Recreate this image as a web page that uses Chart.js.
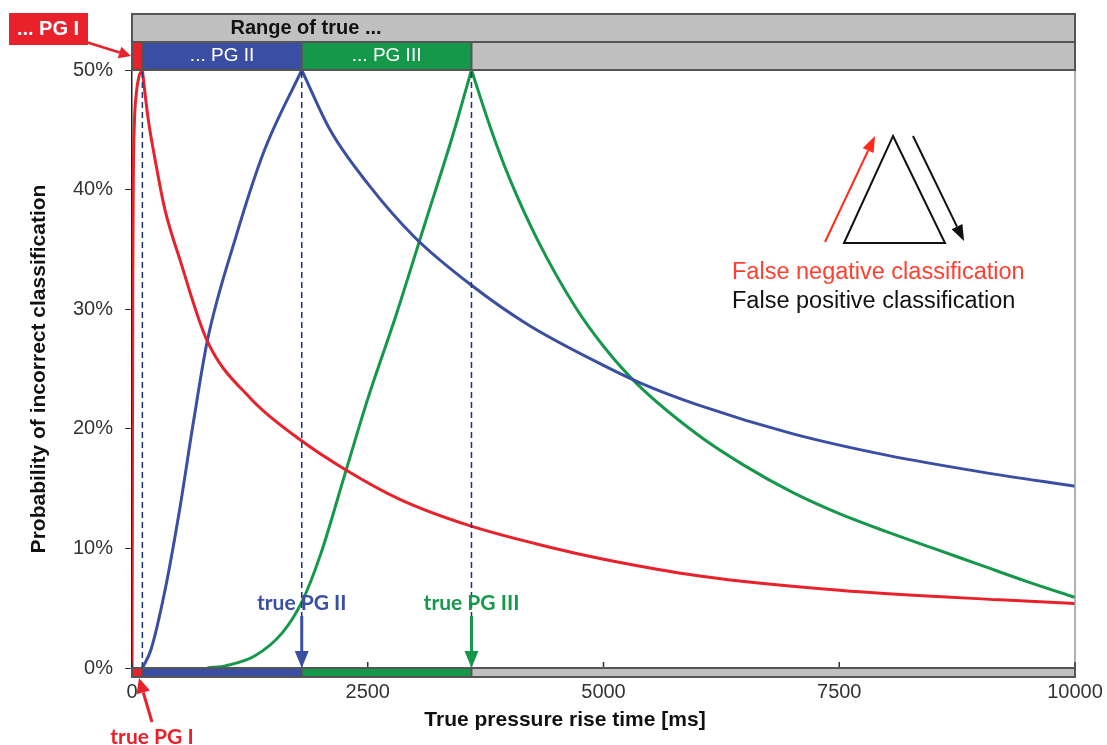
<!DOCTYPE html>
<html>
<head>
<meta charset="utf-8">
<script src="https://cdn.jsdelivr.net/npm/chart.js@4.4.1/dist/chart.umd.min.js"></script>
<style>
  html, body { margin: 0; padding: 0; background: #fff; }
  canvas { display: block; }
</style>
</head>
<body>
<canvas id="myChart" width="1107" height="745"></canvas>
<script>
// pressure groups and their ranges of rise time [ms]
const groupNames = ['... PG I', '... PG II', '... PG III'];
const groupEdges = [0, 110, 1800, 3600, 10000];
const trueLabels = ['true PG I', 'true PG II', 'true PG III'];
const trueValues = [110, 1800, 3600];

// probability of incorrect classification [%]
const pg1RiseTime = [0, 4, 8, 14, 25, 45, 75, 110];
const pg1RiseProb = [0, 14, 32, 41, 45.5, 48, 49.5, 50];
const pg1FallTime = [110, 170, 245, 350, 510, 795, 1250, 1780, 2260, 2840, 3580, 4430, 5000, 6020, 7500, 9200, 10000];
const pg1FallProb = [50, 46.0, 42.5, 38.3, 34.1, 27.4, 22.6, 19.1, 16.6, 14.1, 11.9, 10.1, 9.1, 7.7, 6.5, 5.7, 5.4];

const pg2RiseTime = [110, 200, 350, 500, 650, 800, 1100, 1400, 1800];
const pg2RiseProb = [0, 1.5, 6.5, 13, 20.5, 27.4, 36, 43.2, 50];
const pg2FallTime = [1800, 2100, 2500, 3000, 3600, 4200, 5000, 5400, 6000, 7000, 8000, 9000, 10000];
const pg2FallProb = [50, 45, 40.5, 36, 32, 28.7, 25.3, 23.8, 22, 19.6, 17.8, 16.4, 15.2];

const pg3RiseTime = [800, 1000, 1300, 1600, 1800, 2000, 2250, 2500, 2800, 3100, 3400, 3600];
const pg3RiseProb = [0, 0.2, 1, 3, 5.5, 9.5, 16, 22.5, 29.5, 37, 44.5, 50];
const pg3FallTime = [3600, 3800, 4000, 4300, 4700, 5000, 5350, 6000, 6500, 7000, 7500, 8000, 8500, 9000, 9500, 10000];
const pg3FallProb = [50, 45.2, 41.0, 35.8, 30.2, 26.9, 23.8, 19.5, 16.9, 14.7, 12.9, 11.4, 10.0, 8.6, 7.2, 5.9];

const legendTexts = ['False negative classification', 'False positive classification'];

const RED = '#e8212b';
const BLUE = '#3a4fa3';
const GREEN = '#16984a';
const GRAY = '#c0c0c0';
const groupColors = [RED, BLUE, GREEN, GRAY];
const ARIAL = '"Liberation Sans", Arial, sans-serif';

function toPoints(xs, ys) {
    return xs.map((v, i) => ({x: v, y: ys[i]}));
}

function curve(xs, ys, color) {
    return {
        data: toPoints(xs, ys),
        borderColor: color,
        borderWidth: 3,
        pointRadius: 0,
        showLine: true,
        fill: false,
        cubicInterpolationMode: 'monotone'
    };
}

const dashed = trueValues.map(v => ({
    data: [{x: v, y: 0}, {x: v, y: 50}],
    borderColor: '#1d3470',
    borderWidth: 1.5,
    borderDash: [6, 4],
    pointRadius: 0,
    showLine: true
}));

function arrow(ctx, x1, y1, x2, y2, color, width, head, half) {
    const ang = Math.atan2(y2 - y1, x2 - x1);
    const bx = x2 - head * Math.cos(ang), by = y2 - head * Math.sin(ang);
    ctx.save();
    ctx.strokeStyle = color;
    ctx.fillStyle = color;
    ctx.lineWidth = width;
    ctx.beginPath();
    ctx.moveTo(x1, y1);
    ctx.lineTo(bx, by);
    ctx.stroke();
    ctx.beginPath();
    ctx.moveTo(x2, y2);
    ctx.lineTo(bx + half * Math.sin(ang), by - half * Math.cos(ang));
    ctx.lineTo(bx - half * Math.sin(ang), by + half * Math.cos(ang));
    ctx.closePath();
    ctx.fill();
    ctx.restore();
}

const decorations = {
    id: 'decorations',
    afterDatasetsDraw(chart) {
        const {ctx, chartArea: a, scales: {x}} = chart;
        const px = v => x.getPixelForValue(v);
        const w = a.right - a.left;

        ctx.save();
        // right frame
        ctx.strokeStyle = '#9a9a9a';
        ctx.lineWidth = 1.5;
        ctx.beginPath();
        ctx.moveTo(a.right, a.top);
        ctx.lineTo(a.right, a.bottom);
        ctx.stroke();

        // inner x ticks
        ctx.strokeStyle = '#333';
        ctx.lineWidth = 1.5;
        x.ticks.forEach(t => {
            ctx.beginPath();
            ctx.moveTo(px(t.value), a.bottom);
            ctx.lineTo(px(t.value), a.bottom - 6);
            ctx.stroke();
        });

        // top range panel
        const top = a.top - 56, mid = a.top - 28;
        ctx.fillStyle = GRAY;
        ctx.fillRect(a.left, top, w, 56);
        for (let i = 0; i < groupEdges.length - 1; i++) {
            ctx.fillStyle = groupColors[i];
            ctx.fillRect(px(groupEdges[i]), mid, px(groupEdges[i + 1]) - px(groupEdges[i]), 28);
        }
        // bottom range bar
        const bh = 9;
        for (let i = 0; i < groupEdges.length - 1; i++) {
            ctx.fillStyle = groupColors[i];
            ctx.fillRect(px(groupEdges[i]), a.bottom, px(groupEdges[i + 1]) - px(groupEdges[i]), bh);
        }
        ctx.strokeStyle = '#555';
        ctx.lineWidth = 2;
        ctx.strokeRect(a.left, top, w, 56);
        ctx.strokeRect(a.left, a.bottom, w, bh);
        ctx.beginPath();
        ctx.moveTo(a.left, mid);
        ctx.lineTo(a.right, mid);
        for (let i = 1; i < groupEdges.length - 1; i++) {
            ctx.moveTo(px(groupEdges[i]), mid);
            ctx.lineTo(px(groupEdges[i]), a.top);
            ctx.moveTo(px(groupEdges[i]), a.bottom);
            ctx.lineTo(px(groupEdges[i]), a.bottom + bh);
        }
        ctx.stroke();

        ctx.textBaseline = 'middle';
        ctx.textAlign = 'center';
        ctx.fillStyle = '#111';
        ctx.font = 'bold 20px ' + ARIAL;
        ctx.fillText('Range of true ...', 306, top + 14);
        ctx.fillStyle = '#fff';
        ctx.font = '19px ' + ARIAL;
        for (let i = 1; i < 3; i++) {
            ctx.fillText(groupNames[i], (px(groupEdges[i]) + px(groupEdges[i + 1])) / 2, mid + 14);
        }

        // "... PG I" callout
        ctx.fillStyle = RED;
        ctx.fillRect(9, 13, 79, 32);
        ctx.fillStyle = '#fff';
        ctx.font = 'bold 20px ' + ARIAL;
        ctx.fillText(groupNames[0], 48, 29);
        arrow(ctx, 86, 42, 131, 56, RED, 2.5, 12, 6);

        // true group markers
        ctx.font = 'bold 21px Lato, "Liberation Sans", sans-serif';
        ctx.fillStyle = BLUE;
        ctx.fillText(trueLabels[1], px(trueValues[1]), 603);
        arrow(ctx, px(trueValues[1]), 616, px(trueValues[1]), a.bottom, BLUE, 3, 17, 7);
        ctx.fillStyle = GREEN;
        ctx.fillText(trueLabels[2], px(trueValues[2]), 603);
        arrow(ctx, px(trueValues[2]), 616, px(trueValues[2]), a.bottom, GREEN, 3, 17, 7);
        ctx.fillStyle = RED;
        ctx.fillText(trueLabels[0], 152, 737);
        arrow(ctx, 152, 722, 139, a.bottom + 10, RED, 3, 15, 7);

        // x axis title
        ctx.fillStyle = '#111';
        ctx.font = 'bold 21px ' + ARIAL;
        ctx.fillText('True pressure rise time [ms]', 565, 720);

        // triangle legend
        ctx.strokeStyle = '#111';
        ctx.lineWidth = 2;
        ctx.beginPath();
        ctx.moveTo(893, 136);
        ctx.lineTo(945, 243);
        ctx.lineTo(844, 243);
        ctx.closePath();
        ctx.stroke();
        arrow(ctx, 825, 242, 875, 136, '#ff2a1a', 2, 16, 6);
        arrow(ctx, 913, 136, 964, 241, '#111', 2, 16, 6);
        ctx.textAlign = 'left';
        ctx.font = '23.5px ' + ARIAL;
        ctx.fillStyle = '#ff4030';
        ctx.fillText(legendTexts[0], 732, 273);
        ctx.fillStyle = '#111';
        ctx.fillText(legendTexts[1], 732, 302);
        ctx.restore();
    }
};

new Chart(document.getElementById('myChart'), {
    type: 'scatter',
    data: {
        datasets: [
            ...dashed,
            curve(pg1RiseTime, pg1RiseProb, RED),
            curve(pg1FallTime, pg1FallProb, RED),
            curve(pg2RiseTime, pg2RiseProb, BLUE),
            curve(pg2FallTime, pg2FallProb, BLUE),
            curve(pg3RiseTime, pg3RiseProb, GREEN),
            curve(pg3FallTime, pg3FallProb, GREEN)
        ]
    },
    options: {
        responsive: false,
        animation: false,
        layout: {padding: {top: 70, right: 32, left: 0, bottom: 0}},
        plugins: {legend: {display: false}, tooltip: {enabled: false}},
        scales: {
            x: {
                type: 'linear',
                min: 0,
                max: 10000,
                afterFit(scale) {
                    scale.height = 77;
                    scale.paddingLeft = 0;
                    scale.paddingRight = 0;
                },
                border: {color: '#333', width: 1.5},
                grid: {display: false, drawTicks: false},
                ticks: {
                    stepSize: 2500,
                    padding: 12,
                    color: '#333',
                    font: {family: ARIAL, size: 20},
                    callback: v => String(v)
                }
            },
            y: {
                min: 0,
                max: 50,
                afterFit(scale) { scale.width = 132; },
                border: {color: '#222', width: 1.5},
                grid: {drawOnChartArea: false, drawTicks: true, tickLength: 7, color: '#333'},
                ticks: {
                    stepSize: 10,
                    padding: 12,
                    color: '#333',
                    font: {family: ARIAL, size: 20},
                    callback: v => v + '%'
                },
                title: {
                    display: true,
                    text: 'Probability of incorrect classification',
                    color: '#111',
                    padding: {top: 27},
                    font: {family: ARIAL, size: 21, weight: 'bold'}
                }
            }
        }
    },
    plugins: [decorations]
});
</script>
</body>
</html>
